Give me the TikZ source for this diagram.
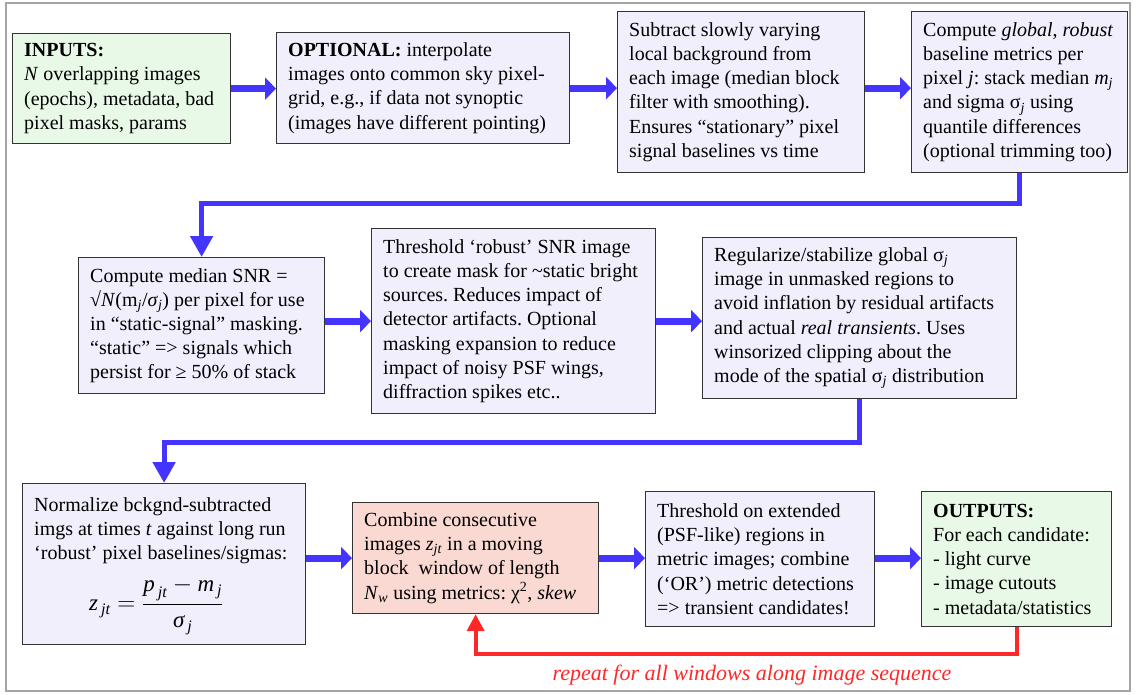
\documentclass[tikz,border=0pt]{standalone}
\usepackage{amsmath}
\usepackage{fontspec}
\setmainfont{Liberation Serif}
\usetikzlibrary{arrows.meta}
\definecolor{boxpurple}{RGB}{241,239,252}
\definecolor{boxgreen}{RGB}{232,249,232}
\definecolor{boxpink}{RGB}{250,217,210}
\definecolor{flowblue}{RGB}{68,52,255}
\definecolor{flowred}{RGB}{255,40,40}
\definecolor{framegray}{RGB}{165,165,165}
\newcommand{\subj}{\textsubscript{\textit{j}}}
\frenchspacing
\tikzset{
  stagebox/.style={draw=black!80, line width=1.2pt, fill=boxpurple, inner sep=0pt, anchor=north west},
  boxtext/.style={align=left, anchor=west, inner sep=0pt, xshift=12pt,
    font=\fontsize{20}{24.2}\selectfont\frenchspacing},
  bigarrow/.style={draw=flowblue, line width=7pt, -{Triangle[width=22pt,length=11pt]}},
  elbowarrow/.style={draw=flowblue, line width=5pt, line join=miter, -{Triangle[width=22pt,length=21pt]}},
  loopback/.style={draw=flowred, line width=4pt, line join=miter, -{Triangle[width=17pt,length=17pt]}},
}
\begin{document}
\begin{tikzpicture}[x=1pt,y=-1pt]
\useasboundingbox (0,0) rectangle (1136,694);
\fill[white] (0,0) rectangle (1136,694);
\draw[framegray, line width=1.5pt] (6,3) rectangle (1130,691);

% row 1
\node[stagebox, fill=boxgreen, minimum width=218pt, minimum height=110pt] (inp) at (12,33) {};
\node[boxtext] (inp-t) at (inp.west)
 {\textbf{INPUTS:}\\ \textit{N} overlapping images\\ (epochs), metadata, bad\\ pixel masks, params};
\node[stagebox, minimum width=293pt, minimum height=111pt] (opt) at (276,32) {};
\node[boxtext] (opt-t) at (opt.west)
 {\textbf{OPTIONAL:} interpolate\\ images onto common sky pixel-\\ grid, e.g., if data not synoptic\\ (images have different pointing)};
\node[stagebox, minimum width=247pt, minimum height=161pt] (sub) at (617,11) {};
\node[boxtext] (sub-t) at (sub.west)
 {Subtract slowly varying\\ local background from\\ each image (median block\\ filter with smoothing).\\ Ensures “stationary” pixel\\ signal baselines vs time};
\node[stagebox, minimum width=216pt, minimum height=161pt] (comp) at (911,11) {};
\node[boxtext] (comp-t) at (comp.west)
 {Compute \textit{global}, \textit{robust}\\ baseline metrics per\\ pixel \textit{j}: stack median \textit{m}\subj\\ and sigma σ\subj{} using\\ quantile differences\\ (optional trimming too)};

% row 2
\node[stagebox, minimum width=246pt, minimum height=136pt] (snr) at (78,257) {};
\node[boxtext] (snr-t) at (snr.west)
 {Compute median SNR =\\ √\textit{N}(m\subj/\textit{σ}\subj) per pixel for use\\ in “static-signal” masking.\\ “static” => signals which\\ persist for ≥ 50\% of stack};
\node[stagebox, minimum width=284pt, minimum height=185pt] (thr) at (371,228) {};
\node[boxtext] (thr-t) at (thr.west)
 {Threshold ‘robust’ SNR image\\ to create mask for \textasciitilde static bright\\ sources. Reduces impact of\\ detector artifacts. Optional\\ masking expansion to reduce\\ impact of noisy PSF wings,\\ diffraction spikes etc..};
\node[stagebox, minimum width=314pt, minimum height=161pt] (reg) at (702,237) {};
\node[boxtext] (reg-t) at (reg.west)
 {Regularize/stabilize global σ\subj\\ image in unmasked regions to\\ avoid inflation by residual artifacts\\ and actual \textit{real transients}. Uses\\ winsorized clipping about the\\ mode of the spatial σ\subj{} distribution};

% row 3
\node[stagebox, minimum width=283pt, minimum height=161pt] (norm) at (22,483) {};
\node[boxtext] (norm-t) at ([yshift=-2pt]norm.west)
 {Normalize bckgnd-subtracted\\ imgs at times \textit{t} against long run\\ ‘robust’ pixel baselines/sigmas:\\[12pt]
  \hspace*{55pt}{\fontsize{23}{26}\selectfont$\textit{z}_{\,\textit{jt}} = \dfrac{\textit{p}_{\,\textit{jt}} - \textit{m}_{\,\textit{j}}}{\textit{σ}_{\,\textit{j}}}$}};
\node[stagebox, fill=boxpink, minimum width=246pt, minimum height=111pt] (comb) at (352,502) {};
\node[boxtext] (comb-t) at (comb.west)
 {Combine consecutive\\ images \textit{z}\textsubscript{\textit{jt}} in a moving\\ block\ \ window of length\\ \textit{N}\textsubscript{\textit{w}} using metrics: χ\textsuperscript{2}, \textit{skew}};
\node[stagebox, minimum width=229pt, minimum height=135pt] (ext) at (645,491) {};
\node[boxtext] (ext-t) at (ext.west)
 {Threshold on extended\\ (PSF-like) regions in\\ metric images; combine\\ (‘OR’) metric detections\\ => transient candidates!};
\node[stagebox, fill=boxgreen, minimum width=190pt, minimum height=135pt] (out) at (921,491) {};
\node[boxtext] (out-t) at (out.west)
 {\textbf{OUTPUTS:}\\ For each candidate:\\ - light curve\\ - image cutouts\\ - metadata/statistics};

% connectors
\draw[bigarrow] (inp.east) -- (opt.west |- inp.east);
\draw[bigarrow] (opt.east) -- (sub.west |- opt.east);
\draw[bigarrow] (sub.east |- opt.east) -- (comp.west |- opt.east);
\draw[elbowarrow] (comp.south) -- ++(0,30) -| (snr.north);
\draw[bigarrow] (snr.east |- thr.west) -- (thr.west);
\draw[bigarrow] (thr.east) -- (reg.west |- thr.east);
\draw[elbowarrow] (reg.south) -- ++(0,43) -| (norm.north);
\draw[bigarrow] (norm.east |- comb.west) -- (comb.west);
\draw[bigarrow] (comb.east) -- (ext.west |- comb.east);
\draw[bigarrow] (ext.east |- comb.east) -- (out.west |- comb.east);
\draw[loopback] (out.south) -- ++(0,27) -| (comb.south);
\node[font=\fontsize{22}{26}\selectfont\itshape, text=flowred] (rep) at (752,675) {repeat for all windows along image sequence};
\end{tikzpicture}
\end{document}
